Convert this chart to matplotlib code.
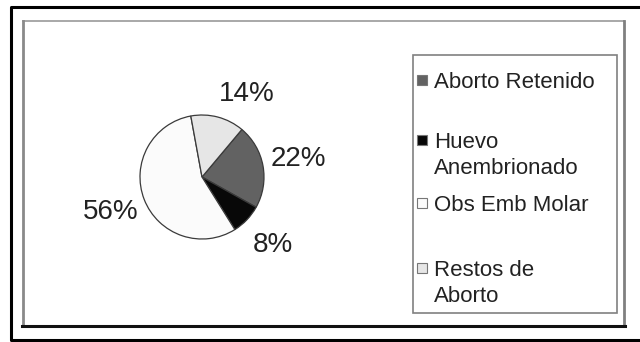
import matplotlib
matplotlib.use("Agg")
from matplotlib import pyplot as plt
from matplotlib.patches import Rectangle
from matplotlib.lines import Line2D
import numpy as np

plt.rcParams['font.family'] = ['Liberation Sans', 'DejaVu Sans']

categories = ["Aborto Retenido", "Huevo\nAnembrionado", "Obs Emb Molar", "Restos de\nAborto"]
values = [22, 8, 56, 14]
colors = ["#626262", "#080808", "#fbfbfb", "#e6e6e6"]

W, H = 640, 342
fig = plt.figure(figsize=(W / 100, H / 100), dpi=100)
fig.patch.set_facecolor("white")


def fx(px):
    return px / W


def fy(py):
    return 1 - py / H


def fline(xs, ys, **kw):
    fig.add_artist(Line2D([fx(v) for v in xs], [fy(v) for v in ys], transform=fig.transFigure, **kw))


# outer black border (open on the right side, cropped)
fline([645, 11, 11, 645], [7, 7, 340, 340], color="black", lw=2.2)
# inner chart frame: gray top/left/right, black bottom
fline([23, 624], [21, 21], color="#9a9a9a", lw=1.2)
fline([23, 23], [21, 326], color="#8a8a8a", lw=2)
fline([624, 624], [21, 326], color="#808080", lw=2)
fline([22, 625], [326, 326], color="#111111", lw=2.2)

# pie
cx, cy, r = 202, 177, 62
ax = fig.add_axes([fx(cx - r), fy(cy + r), 2 * r / W, 2 * r / H])
wedges, texts, autotexts = ax.pie(values, colors=colors, startangle=50, counterclock=False,
                                  autopct="%1.0f%%", pctdistance=1.58, radius=1,
                                  wedgeprops=dict(edgecolor="#3a3a3a", linewidth=0.9),
                                  textprops=dict(fontsize=20, color="#222222"))
# 14% label sits a bit to the right (best-fit placement)
ang = np.deg2rad(62)
autotexts[3].set_position((1.55 * np.cos(ang), 1.52 * np.sin(ang)))
ax.set_xlim(-1, 1)
ax.set_ylim(-1, 1)
ax.set_aspect("auto")
ax.axis("off")

# legend box
lx0, ly0, lx1, ly1 = 413, 55, 617, 313
legend_box = Rectangle((fx(lx0), fy(ly1)), fx(lx1 - lx0), (ly1 - ly0) / H, transform=fig.transFigure,
                       facecolor="white", edgecolor="#808080", linewidth=1.2)
fig.add_artist(legend_box)

entry_y = [80, 140, 203, 268]
for name, col, y in zip(categories, colors, entry_y):
    fig.add_artist(Rectangle((fx(417), fy(y + 5)), fx(10), 10 / H, transform=fig.transFigure,
                             facecolor=col, edgecolor="#777777", linewidth=0.8))
    t = fig.text(fx(434), fy(y - 8), name, fontsize=16, color="#222222", va="top", ha="left",
                 linespacing=1.3)
    t.set_clip_path(legend_box)

fig.savefig("out.png", dpi=100)
